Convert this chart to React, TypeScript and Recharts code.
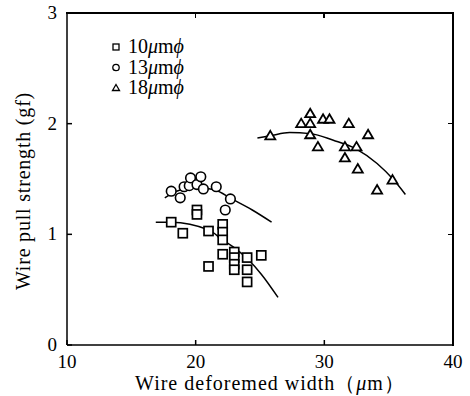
import React from 'react';
import { ComposedChart, Scatter, Line, XAxis, YAxis, Legend, Label } from 'recharts';

// measured points, wire diameter 10 / 13 / 18 um
const sq10X = [18.1, 19.0, 20.1, 20.1, 21.0, 21.0, 22.1, 22.1, 22.1, 22.1, 23.0, 23.0, 23.0, 23.0, 24.0, 24.0, 24.0, 25.1];
const sq10Y = [1.11, 1.01, 1.22, 1.18, 1.03, 0.71, 1.09, 1.02, 0.95, 0.82, 0.84, 0.79, 0.73, 0.68, 0.79, 0.68, 0.57, 0.81];

const circ13X = [18.1, 18.8, 19.1, 19.5, 19.6, 20.1, 20.4, 20.6, 21.6, 22.7, 22.3];
const circ13Y = [1.39, 1.33, 1.43, 1.44, 1.51, 1.45, 1.52, 1.41, 1.43, 1.32, 1.22];

const tri18X = [25.8, 28.2, 28.9, 28.9, 28.9, 29.5, 29.9, 30.4, 31.6, 31.6, 31.9, 32.5, 32.6, 33.4, 34.1, 35.3];
const tri18Y = [1.89, 2.0, 2.09, 2.0, 1.9, 1.79, 2.04, 2.04, 1.79, 1.69, 2.0, 1.79, 1.59, 1.9, 1.4, 1.49];

// fitted curves
const fit10X = [16.9, 18.1, 21.0, 22.1, 23.0, 24.1, 25.1, 26.4];
const fit10Y = [1.11, 1.11, 1.04, 0.95, 0.88, 0.77, 0.64, 0.43];
const fit13X = [17.6, 18.8, 20.2, 21.5, 22.8, 24.4, 25.9];
const fit13Y = [1.33, 1.4, 1.42, 1.4, 1.32, 1.22, 1.11];
const fit18X = [24.8, 25.8, 27.3, 28.9, 30.7, 32.5, 34.1, 35.4, 36.3];
const fit18Y = [1.87, 1.89, 1.92, 1.91, 1.85, 1.77, 1.64, 1.49, 1.36];

const xTicks = [10, 20, 30, 40];
const yTicks = [0, 1, 2, 3];
const xDomain = [10, 40];
const yDomain = [0, 3];

const zip = (xs: number[], ys: number[]) => xs.map((x, i) => ({ x, y: ys[i] }));

const FONT = '"Liberation Serif", "DejaVu Serif", serif';

const W = 470;
const H = 396;
const M = { top: 13, right: 17, bottom: 0, left: 0 };
const Y_AXIS_W = 67;
const X_AXIS_H = 51;
const PLOT_W = W - M.left - M.right - Y_AXIS_W;
const PLOT_H = H - M.top - M.bottom - X_AXIS_H;

const Square = ({ cx, cy }: any) => (
  <rect x={cx - 4.5} y={cy - 4.5} width={9} height={9} fill="#fff" stroke="#000" strokeWidth={1.7} />
);
const Circle = ({ cx, cy }: any) => (
  <circle cx={cx} cy={cy} r={4.8} fill="#fff" stroke="#000" strokeWidth={1.6} />
);
const Triangle = ({ cx, cy }: any) => (
  <polygon
    points={`${cx},${cy - 5} ${cx + 5},${cy + 3.5} ${cx - 5},${cy + 3.5}`}
    fill="#fff"
    stroke="#000"
    strokeWidth={1.8}
  />
);

const BottomTick = ({ x, y, payload }: any) => (
  <g>
    <rect x={x - 0.75} y={y - 5} width={1.5} height={5} fill="#000" />
    <text x={x} y={y + 23} textAnchor="middle" fontFamily={FONT} fontSize={19} fill="#000">
      {payload.value}
    </text>
  </g>
);

const LeftTick = ({ x, y, payload }: any) => (
  <g>
    <rect x={x} y={y - 0.75} width={5} height={1.5} fill="#000" />
    <text x={x - 10} y={y + 6} textAnchor="end" fontFamily={FONT} fontSize={19} fill="#000">
      {payload.value}
    </text>
  </g>
);

const XTitle = ({ viewBox }: any) => (
  <text x={viewBox.x + viewBox.width / 2 + 10} y={viewBox.y + 45} textAnchor="middle" fontFamily={FONT} fontSize={20} letterSpacing={1} fill="#000">
    Wire deforemed width（<tspan fontStyle="italic">μ</tspan>m）
  </text>
);

const YTitle = ({ viewBox }: any) => {
  const cx = 30;
  const cy = viewBox.y + viewBox.height / 2 + 12;
  return (
    <text x={cx} y={cy} transform={`rotate(-90 ${cx} ${cy})`} textAnchor="middle" fontFamily={FONT} fontSize={20} letterSpacing={0.8} fill="#000">
      Wire pull strength (gf)
    </text>
  );
};

const legendRows = [
  { label: '10', icon: 'square' },
  { label: '13', icon: 'circle' },
  { label: '18', icon: 'triangle' },
];

const LegendBox = () => (
  <svg width={100} height={64}>
    {legendRows.map((r, i) => {
      const cy = 11 + i * 20.5;
      return (
        <g key={r.label}>
          {r.icon === 'square' && <rect x={3} y={cy - 3} width={6} height={6} fill="none" stroke="#000" strokeWidth={1.3} />}
          {r.icon === 'circle' && <circle cx={6} cy={cy} r={3.2} fill="none" stroke="#000" strokeWidth={1.3} />}
          {r.icon === 'triangle' && (
            <polygon points={`6,${cy - 3.5} 9.5,${cy + 2.5} 2.5,${cy + 2.5}`} fill="none" stroke="#000" strokeWidth={1.3} />
          )}
          <text x={18} y={cy + 6} fontFamily={FONT} fontSize={20} fill="#000">
            {r.label}
            <tspan fontStyle="italic">μ</tspan>m<tspan fontStyle="italic">ϕ</tspan>
          </text>
        </g>
      );
    })}
  </svg>
);

// top and right edges of the plot box as plain html, with inward ticks
const Frame = () => {
  const fx = (v: number) => ((v - xDomain[0]) / (xDomain[1] - xDomain[0])) * PLOT_W;
  const fy = (v: number) => PLOT_H - ((v - yDomain[0]) / (yDomain[1] - yDomain[0])) * PLOT_H;
  const left = M.left + Y_AXIS_W;
  const top = M.top;
  return (
    <>
      <div style={{ position: 'absolute', left: left - 1, top: top - 1, width: PLOT_W + 2, height: 2, background: '#000' }} />
      <div style={{ position: 'absolute', left: left + PLOT_W - 1, top: top - 1, width: 2, height: PLOT_H + 2, background: '#000' }} />
      {xTicks.slice(1, -1).map((v) => (
        <div key={`t${v}`} style={{ position: 'absolute', left: left + fx(v) - 1, top, width: 1.5, height: 5, background: '#000' }} />
      ))}
      {yTicks.slice(1, -1).map((v) => (
        <div key={`r${v}`} style={{ position: 'absolute', left: left + PLOT_W - 5, top: top + fy(v) - 0.75, width: 5, height: 1.5, background: '#000' }} />
      ))}
    </>
  );
};

export default function App() {
  return (
    <div style={{ position: 'absolute', left: 0, top: 0, width: W, height: H, background: '#fff' }}>
      <ComposedChart width={W} height={H} margin={M}>
        <XAxis
          dataKey="x"
          type="number"
          domain={xDomain}
          ticks={xTicks}
          height={X_AXIS_H}
          stroke="#000"
          strokeWidth={1.5}
          tickLine={false}
          tickSize={0}
          tickMargin={0}
          tick={<BottomTick />}
        >
          <Label content={<XTitle />} />
        </XAxis>
        <YAxis
          type="number"
          domain={yDomain}
          ticks={yTicks}
          width={Y_AXIS_W}
          stroke="#000"
          strokeWidth={1.5}
          tickLine={false}
          tickSize={0}
          tickMargin={0}
          tick={<LeftTick />}
        >
          <Label content={<YTitle />} />
        </YAxis>
        <Legend
          layout="vertical"
          align="center"
          verticalAlign="middle"
          content={<LegendBox />}
          wrapperStyle={{ left: 110, top: 36, width: 100, height: 64 }}
        />
        <Line data={zip(fit10X, fit10Y)} dataKey="y" type="monotone" stroke="#000" strokeWidth={1.5} dot={false} isAnimationActive={false} />
        <Line data={zip(fit13X, fit13Y)} dataKey="y" type="monotone" stroke="#000" strokeWidth={1.5} dot={false} isAnimationActive={false} />
        <Line data={zip(fit18X, fit18Y)} dataKey="y" type="monotone" stroke="#000" strokeWidth={1.5} dot={false} isAnimationActive={false} />
        <Scatter data={zip(sq10X, sq10Y)} dataKey="y" shape={<Square />} isAnimationActive={false} />
        <Scatter data={zip(circ13X, circ13Y)} dataKey="y" shape={<Circle />} isAnimationActive={false} />
        <Scatter data={zip(tri18X, tri18Y)} dataKey="y" shape={<Triangle />} isAnimationActive={false} />
      </ComposedChart>
      <Frame />
    </div>
  );
}
